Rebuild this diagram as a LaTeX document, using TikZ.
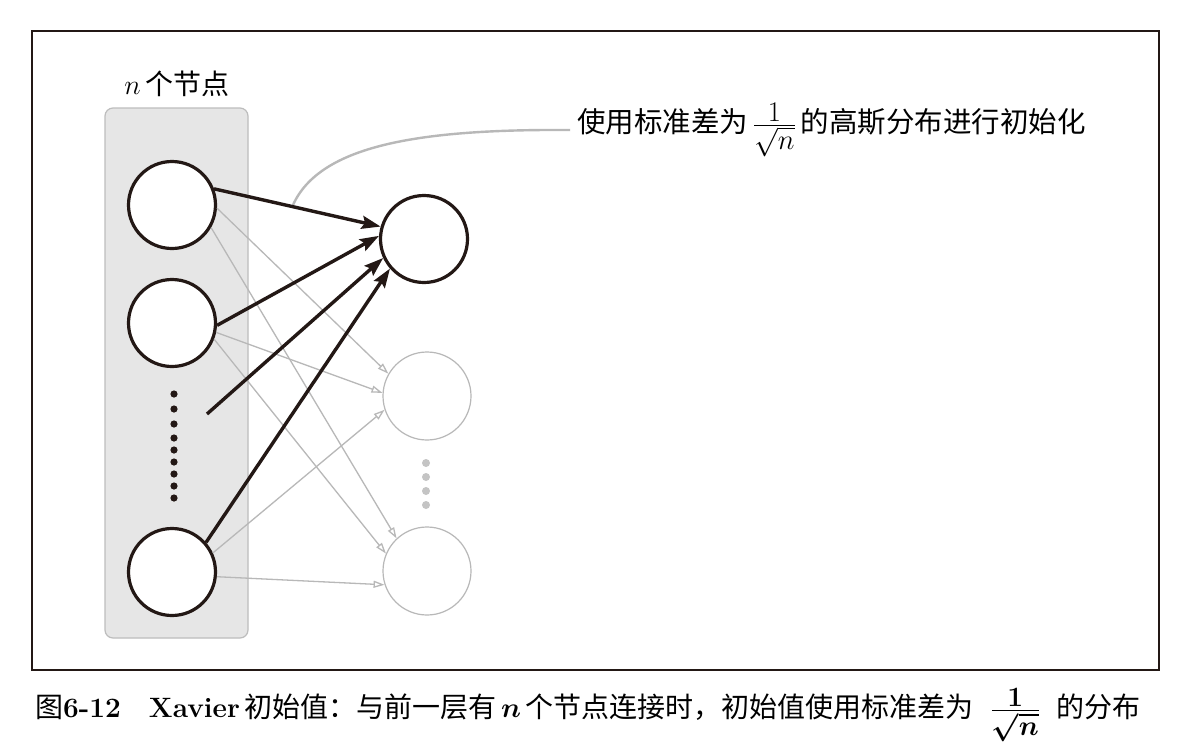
\documentclass[tikz,border=0pt]{standalone}
\usepackage{fix-cm}
\usepackage{amsmath}
\usepackage{fontspec}
\newfontfamily\cjk{Noto Sans CJK SC}
\usetikzlibrary{arrows.meta}
\definecolor{ink}{HTML}{231815}
\definecolor{lgray}{HTML}{B8B8B8}
\definecolor{dotgray}{HTML}{C4C4C4}
\definecolor{boxfill}{HTML}{E6E6E6}
\definecolor{boxline}{HTML}{BDBDBD}
\newcommand{\myfrac}{\frac{\textstyle 1}{\textstyle\sqrt{n}}}
\newcommand{\mycaptext}{%
  {\cjk 图}{\bfseries 6-12}\hspace{28pt}{\bfseries Xavier}\,{\cjk 初始值：与前一层有}\,$\boldsymbol{n}$\,{\cjk 个节点连接时，初始值使用标准差为}\ \ {\mathversion{bold}$\myfrac$}\ \ {\cjk 的分布}}
\newcommand{\myanno}{%
  {\cjk 使用标准差为}\,$\myfrac$\,{\cjk 的高斯分布进行初始化}}
\begin{document}
\begin{tikzpicture}[x=1pt,y=-1pt,
  inode/.style={circle,draw=ink,line width=3.2pt,fill=white,minimum size=87pt,inner sep=0pt},
  gnode/.style={circle,draw=lgray,line width=1.2pt,fill=white,minimum size=88pt,inner sep=0pt},
  barrow/.style={draw=ink,line width=3.4pt,-{Stealth[length=19pt,width=13pt,inset=3pt]}},
  garrow/.style={draw=lgray,line width=1.3pt,-{Triangle[open,length=11pt,width=7pt]}},
  bdot/.style={fill=ink},
  gdot/.style={fill=dotgray},
  lbl/.style={inner sep=0pt,font=\fontsize{28}{32}\selectfont},
  anno/.style={inner sep=0pt,font=\fontsize{28.5}{33}\selectfont}
]
\useasboundingbox (0,0) rectangle (1197,750);
\fill[white] (0,0) rectangle (1197,750);
\draw[ink,line width=1.2pt] (32,31) rectangle (1159,670);
\draw[boxline,fill=boxfill,rounded corners=8pt,line width=1.2pt] (105,108) rectangle (248,638);

\node[lbl] (nlabel) at (177,84) {$n$\,{\cjk 个节点}};

% left nodes
\node[inode] (i1) at (172,205) {};
\node[inode] (i2) at (172,323) {};
\node[inode] (i3) at (172,572) {};
\foreach \y in {394,409,424,438,450,462,474,486,498}
  \fill[bdot] (174,\y) circle (3.6);
\coordinate (free) at (207,414);

% right nodes
\node[inode] (o1) at (424,239) {};
\node[gnode] (g1) at (427,396) {};
\node[gnode] (g2) at (427,571) {};
\foreach \y in {463,477,491,505}
  \fill[gdot] (426,\y) circle (4);

% gray arrows
\draw[garrow] (i1.-4) -- (g1.150);
\draw[garrow] (i1.-30) -- (g2.133);
\draw[garrow] (i2.-12) -- (g1.176);
\draw[garrow] (i2.-21) -- (g2.157);
\draw[garrow] (i3.25) -- (g1.198);
\draw[garrow] (i3.-6) -- (g2.198);

% annotation
\node[anno,anchor=west,inner xsep=7pt] (txt) at (570,130) {\myanno};
\coordinate (cstart) at (293,205);
\draw[lgray,line width=2.4pt] (cstart) .. controls (320,145) and (420,129) .. (txt.west);

% black arrows
\draw[barrow] (i1.21) -- (o1.164);
\draw[barrow] (i2.-3) -- (o1.176);
\draw[barrow] (free) -- (o1.205);
\draw[barrow] (i3.41) -- (o1.221);

% caption
\node[anchor=west,inner sep=0pt,font=\fontsize{28}{32}\selectfont] (cap) at (35,715) {\mycaptext};
\end{tikzpicture}
\end{document}
